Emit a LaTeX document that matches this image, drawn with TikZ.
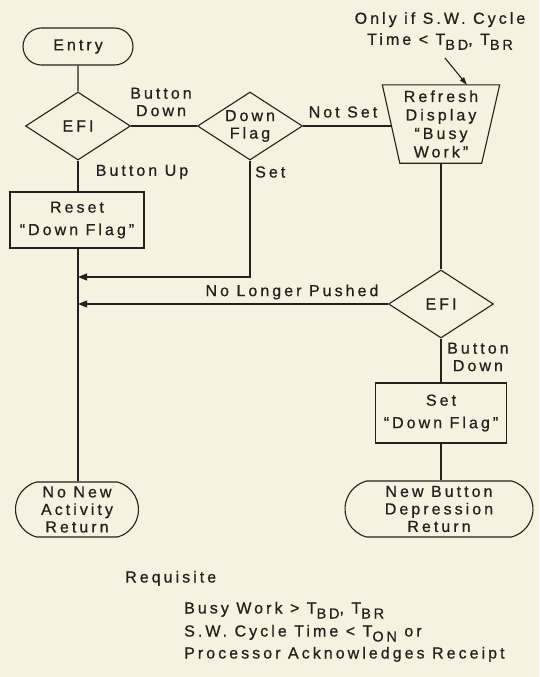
\documentclass[tikz,border=0pt]{standalone}
\usepackage{fontspec}
\setmainfont{Liberation Sans}[LetterSpace=19,FakeBold=0.7]
\usetikzlibrary{shapes.geometric,shapes.misc,arrows.meta}
\definecolor{paper}{RGB}{247,241,226}
\definecolor{ink}{RGB}{38,32,28}
\newcommand\sbt[1]{\raisebox{-5pt}{\fontsize{14.5}{14.5}\selectfont #1}}
\begin{document}
\begin{tikzpicture}[x=1pt,y=-1pt,
  every node/.style={text=ink, font=\fontsize{16}{17.5}\selectfont, inner sep=0pt},
  line/.style={draw=ink, line width=1.1pt},
  arr/.style={line, -{Triangle[length=9pt,width=7pt]}},
  thinarr/.style={line, -{Triangle[length=8pt,width=5pt]}},
  dec/.style={diamond, draw=ink, line width=1.1pt, minimum width=105pt, minimum height=68pt},
  box/.style={rectangle, draw=ink, line width=1.1pt, align=center},
  term/.style={rounded rectangle, draw=ink, line width=1.1pt, align=center},
  lbl/.style={align=center}]
\fill[paper] (0,0) rectangle (539,677);
\useasboundingbox (0,0) rectangle (539,677);

% left column
\node[term, minimum width=110pt, minimum height=37pt] (entry) at (78,46.5) {Entry};
\node[dec] (efi1) at (78,126) {};
\node (efi1t) at (78,126) {EFI};
\node[box, minimum width=134pt, minimum height=56pt] (reset) at (77,220) {Reset\\[5pt]“Down Flag”};
\node[term, minimum width=123pt, minimum height=55pt, rounded rectangle arc length=150] (nonew) at (77,509.5) {No New\\Activity\\Return};

% middle
\node[dec] (flag) at (250,126) {};
\node[lbl] (flagt) at (250,126) {Down\\Flag};

% right column
\node[lbl, minimum width=117pt, minimum height=78pt, font=\fontsize{16}{18.5}\selectfont] (refresh) at (441,124) {Refresh\\Display\\“Busy\\Work”};
\draw[line] (refresh.north west) -- (refresh.north east) -- ([xshift=-18pt]refresh.south east) -- ([xshift=17.5pt]refresh.south west) -- cycle;
\node[dec] (efi2) at (441,304) {};
\node (efi2t) at (441,304) {EFI};
\node[box, minimum width=131pt, minimum height=60pt] (set) at (441,413) {Set\\[5pt]“Down Flag”};
\node[term, minimum width=188pt, minimum height=56pt, rounded rectangle arc length=150] (newbtn) at (439,509) {New Button\\Depression\\Return};

% labels
\node[lbl] (bd1) at (161,102) {Button\\Down};
\node (bu) at (142,172) {Button Up};
\node[anchor=west] (st) at (255,172) {Set};
\node (ns) at (343,112) {Not Set};
\node (nlp) at (292,292) {No Longer Pushed};
\node[lbl, anchor=west] (bd2) at (447,357) {Button\\Down};
\node[lbl, font=\fontsize{16}{21}\selectfont] (onlyif) at (440,31) {Only if S.W. Cycle\\Time < T\sbt{BD}, T\sbt{BR}};

% requisite
\node[anchor=base west] (req) at (125,582.5) {Requisite};
\node[anchor=base west] (r1) at (184,613.5) {Busy Work > T\sbt{BD}, T\sbt{BR}};
\node[anchor=base west] (r2) at (184,636.5) {S.W. Cycle Time < T\sbt{ON} or};
\node[anchor=base west] (r3) at (184,658.5) {Processor Acknowledges Receipt};

% connectors
\coordinate (j1) at (78,277);
\coordinate (j2) at (78,304);
\coordinate (nsEnd) at (391.7,126);
\coordinate (a0) at (445,58);
\coordinate (a1) at (467,85);
\draw[line] (entry) -- (efi1);
\draw[line] (efi1) -- (flag);
\draw[line] (efi1.south) -- (efi1.south |- reset.north);
\draw[line] (efi1.south |- reset.south) -- (efi1.south |- nonew.north);
\draw[arr] (flag.south) |- (j1);
\draw[arr] (efi2.west) -- (j2);
\draw[line] (flag.east) -- (nsEnd);
\draw[line] (refresh.south) -- (efi2.north);
\draw[line] (efi2.south) -- (set.north);
\draw[line] (set.south) -- (set.south |- newbtn.north);
\draw[thinarr] (a0) -- (a1);
\end{tikzpicture}
\end{document}
